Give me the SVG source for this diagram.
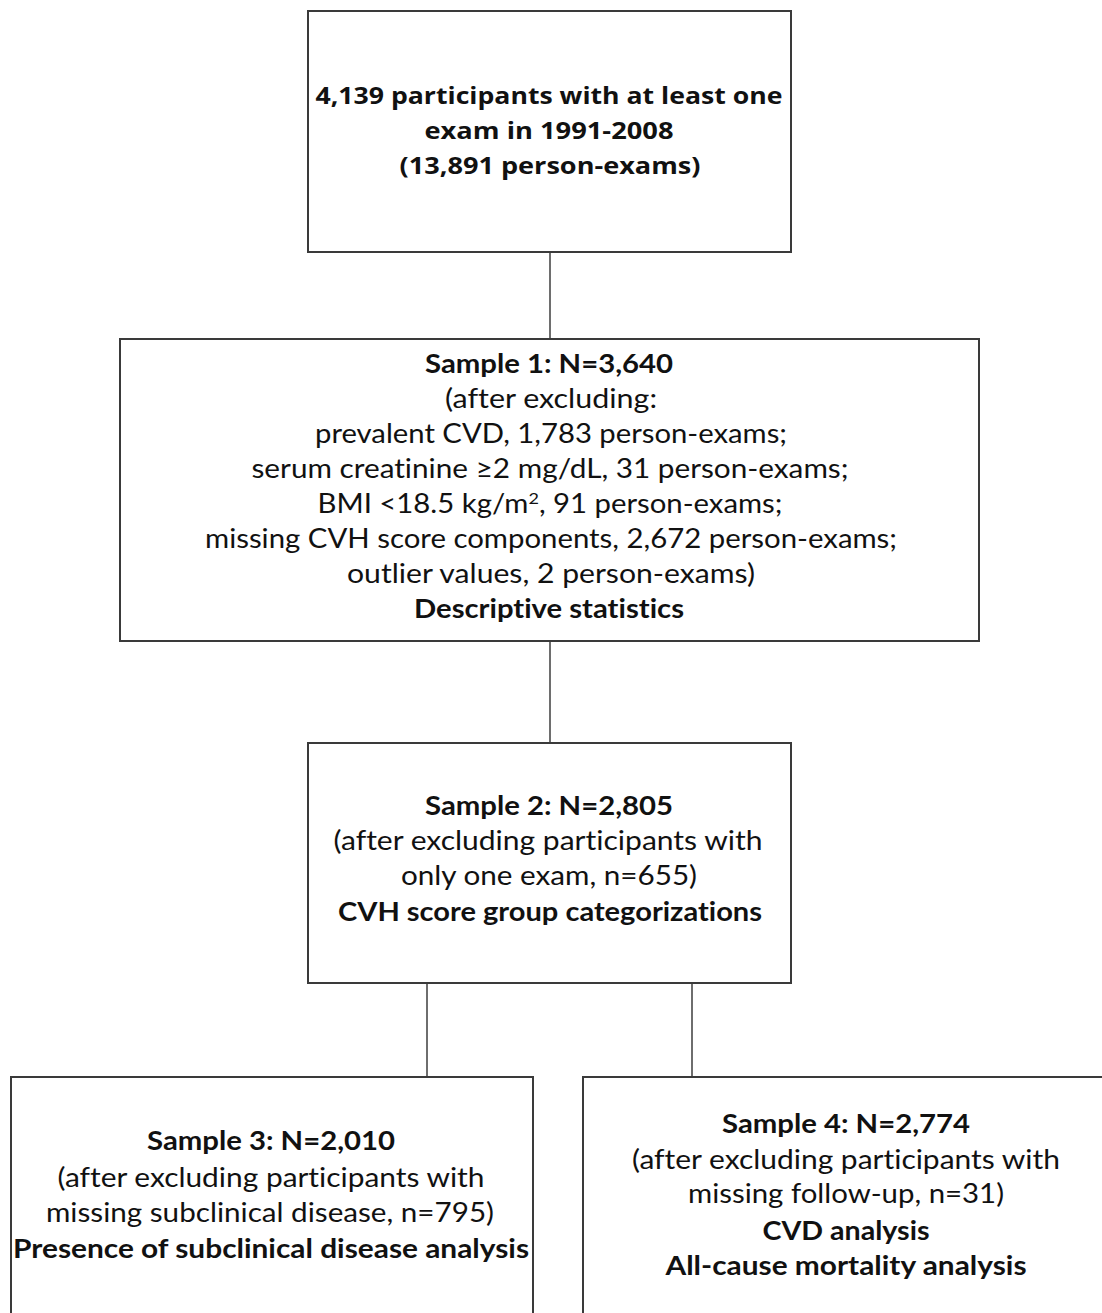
<svg xmlns="http://www.w3.org/2000/svg" width="1102" height="1313" viewBox="0 0 1102 1313">
<style>
.box{fill:#fff;stroke:#3a3a3a;stroke-width:2}
.conn line{stroke:#4a4a4a;stroke-width:1.6}
text{font-family:Lato,"Open Sans","Liberation Sans",sans-serif;font-size:26px;fill:#111;text-anchor:middle;font-variant-ligatures:none}
.b{font-weight:bold}
.top{font-family:"Open Sans","Noto Sans","Liberation Sans",sans-serif;font-weight:bold;font-size:24px}
</style>
<rect x="0" y="0" width="1102" height="1313" fill="#fff"/>
<g class="conn" id="connectors">
<line x1="550" y1="252" x2="550" y2="339"/>
<line x1="550" y1="641" x2="550" y2="743"/>
<line x1="427" y1="983" x2="427" y2="1077"/>
<line x1="692" y1="983" x2="692" y2="1077"/>
</g>
<g id="node-top">
<rect class="box" x="308" y="11" width="483" height="241"/>
<text class="top" x="549" y="104" textLength="467" lengthAdjust="spacingAndGlyphs">4,139 participants with at least one</text>
<text class="top" x="549" y="139" textLength="249" lengthAdjust="spacingAndGlyphs">exam in 1991-2008</text>
<text class="top" x="550" y="174" textLength="301" lengthAdjust="spacingAndGlyphs">(13,891 person-exams)</text>
</g>
<g id="node-sample1">
<rect class="box" x="120" y="339" width="859" height="302"/>
<text class="b" x="549" y="373" textLength="248" lengthAdjust="spacingAndGlyphs">Sample 1: N=3,640</text>
<text x="551" y="408" textLength="212" lengthAdjust="spacingAndGlyphs">(after excluding:</text>
<text x="551" y="443" textLength="472" lengthAdjust="spacingAndGlyphs">prevalent CVD, 1,783 person-exams;</text>
<text x="550" y="478" textLength="597" lengthAdjust="spacingAndGlyphs">serum creatinine ≥2 mg/dL, 31 person-exams;</text>
<text x="550" y="513" textLength="465" lengthAdjust="spacingAndGlyphs">BMI &lt;18.5 kg/m<tspan dy="-9" font-size="16">2</tspan><tspan dy="9">, 91 person-exams;</tspan></text>
<text x="551" y="548" textLength="692" lengthAdjust="spacingAndGlyphs">missing CVH score components, 2,672 person-exams;</text>
<text x="551" y="583" textLength="408" lengthAdjust="spacingAndGlyphs">outlier values, 2 person-exams)</text>
<text class="b" x="549" y="618" textLength="270" lengthAdjust="spacingAndGlyphs">Descriptive statistics</text>
</g>
<g id="node-sample2">
<rect class="box" x="308" y="743" width="483" height="240"/>
<text class="b" x="549" y="815" textLength="248" lengthAdjust="spacingAndGlyphs">Sample 2: N=2,805</text>
<text x="548" y="850" textLength="429" lengthAdjust="spacingAndGlyphs">(after excluding participants with</text>
<text x="549" y="885" textLength="296" lengthAdjust="spacingAndGlyphs">only one exam, n=655)</text>
<text class="b" x="550" y="921" textLength="424" lengthAdjust="spacingAndGlyphs">CVH score group categorizations</text>
</g>
<g id="node-sample3">
<rect class="box" x="11" y="1077" width="522" height="250"/>
<text class="b" x="271" y="1150" textLength="248" lengthAdjust="spacingAndGlyphs">Sample 3: N=2,010</text>
<text x="271" y="1187" textLength="427" lengthAdjust="spacingAndGlyphs">(after excluding participants with</text>
<text x="270" y="1222" textLength="448" lengthAdjust="spacingAndGlyphs">missing subclinical disease, n=795)</text>
<text class="b" x="271" y="1258" textLength="516" lengthAdjust="spacingAndGlyphs">Presence of subclinical disease analysis</text>
</g>
<g id="node-sample4">
<rect class="box" x="583" y="1077" width="540" height="250"/>
<text class="b" x="846" y="1133" textLength="248" lengthAdjust="spacingAndGlyphs">Sample 4: N=2,774</text>
<text x="846" y="1169" textLength="428" lengthAdjust="spacingAndGlyphs">(after excluding participants with</text>
<text x="846" y="1203" textLength="316" lengthAdjust="spacingAndGlyphs">missing follow-up, n=31)</text>
<text class="b" x="846" y="1240" textLength="167" lengthAdjust="spacingAndGlyphs">CVD analysis</text>
<text class="b" x="846" y="1275" textLength="361" lengthAdjust="spacingAndGlyphs">All-cause mortality analysis</text>
</g>
</svg>
